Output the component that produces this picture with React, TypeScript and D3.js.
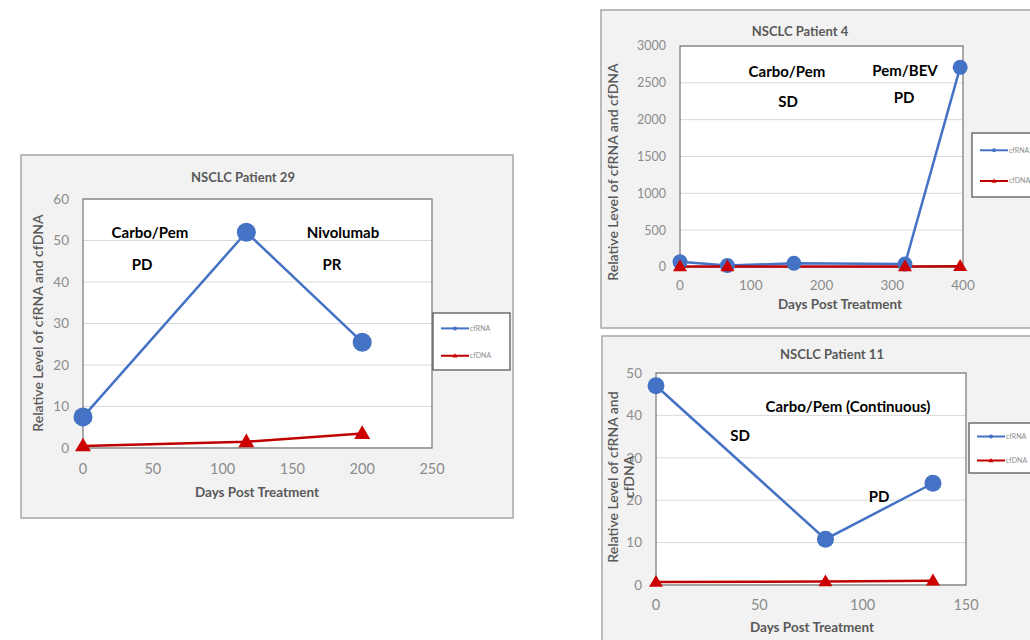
import React from "react";
import * as d3 from "d3";

// ---------- data ----------
const p29Days = [0, 117, 200];
const p29Rna = [7.5, 52, 25.5];
const p29DnaDays = [0, 117, 200];
const p29Dna = [0.5, 1.5, 3.5];
const p29XTicks = [0, 50, 100, 150, 200, 250];
const p29YTicks = [0, 10, 20, 30, 40, 50, 60];

const p4Days = [0, 67, 161, 318, 396];
const p4Rna = [70, 20, 50, 40, 2710];
const p4DnaDays = [0, 67, 318, 396];
const p4Dna = [8, 6, 6, 10];
const p4XTicks = [0, 100, 200, 300, 400];
const p4YTicks = [0, 500, 1000, 1500, 2000, 2500, 3000];

const p11Days = [0, 82, 134];
const p11Rna = [47, 10.8, 24];
const p11DnaDays = [0, 82, 134];
const p11Dna = [0.7, 0.8, 1.0];
const p11XTicks = [0, 50, 100, 150];
const p11YTicks = [0, 10, 20, 30, 40, 50];

const seriesNames = ["cfRNA", "cfDNA"];

type Note = { text: string; x: number; y: number };

interface PanelCfg {
  title: string;
  box: [number, number, number, number];
  plot: [number, number, number, number]; // left, top, right, bottom
  titlePos: [number, number];
  xDomain: [number, number];
  yDomain: [number, number];
  xTicks: number[];
  yTicks: number[];
  rnaX: number[];
  rnaY: number[];
  dnaX: number[];
  dnaY: number[];
  notes: Note[];
  yTitleLines: string[];
  yTitleX: number;
  yTitleY: number;
  xTitlePos: [number, number];
  xTickOffset: number;
  legend: [number, number, number, number];
  dotR: number;
  tri: number;
  tickSize: number;
}

const panels: PanelCfg[] = [
  {
    title: "NSCLC Patient 29",
    box: [21, 155, 492, 363],
    plot: [83, 199, 432, 448],
    titlePos: [243, 182],
    xDomain: [0, 250],
    yDomain: [0, 60],
    xTicks: p29XTicks,
    yTicks: p29YTicks,
    rnaX: p29Days,
    rnaY: p29Rna,
    dnaX: p29DnaDays,
    dnaY: p29Dna,
    notes: [
      { text: "Carbo/Pem", x: 150, y: 238 },
      { text: "PD", x: 142, y: 270 },
      { text: "Nivolumab", x: 343, y: 238 },
      { text: "PR", x: 332, y: 270 },
    ],
    yTitleLines: ["Relative Level of cfRNA and cfDNA"],
    yTitleX: 38,
    yTitleY: 323,
    xTitlePos: [257, 497],
    xTickOffset: 21,
    legend: [433, 313, 77, 57],
    dotR: 9.5,
    tri: 16,
    tickSize: 13.5,
  },
  {
    title: "NSCLC Patient 4",
    box: [601, 10, 440, 318],
    plot: [680, 46, 963, 267],
    titlePos: [800, 36],
    xDomain: [0, 400],
    yDomain: [0, 3000],
    xTicks: p4XTicks,
    yTicks: p4YTicks,
    rnaX: p4Days,
    rnaY: p4Rna,
    dnaX: p4DnaDays,
    dnaY: p4Dna,
    notes: [
      { text: "Carbo/Pem", x: 787, y: 77 },
      { text: "SD", x: 788, y: 107 },
      { text: "Pem/BEV", x: 905, y: 76 },
      { text: "PD", x: 904, y: 103 },
    ],
    yTitleLines: ["Relative Level of cfRNA and cfDNA"],
    yTitleX: 613,
    yTitleY: 172,
    xTitlePos: [840, 309],
    xTickOffset: 18,
    legend: [972, 133, 70, 64],
    dotR: 7.5,
    tri: 14,
    tickSize: 12.5,
  },
  {
    title: "NSCLC Patient 11",
    box: [602, 336, 440, 320],
    plot: [656, 373, 966, 585],
    titlePos: [832, 359],
    xDomain: [0, 150],
    yDomain: [0, 50],
    xTicks: p11XTicks,
    yTicks: p11YTicks,
    rnaX: p11Days,
    rnaY: p11Rna,
    dnaX: p11DnaDays,
    dnaY: p11Dna,
    notes: [
      { text: "Carbo/Pem (Continuous)", x: 848, y: 412 },
      { text: "SD", x: 740, y: 441 },
      { text: "PD", x: 879, y: 502 },
    ],
    yTitleLines: ["Relative Level of cfRNA and", "cfDNA"],
    yTitleX: 613,
    yTitleY: 477,
    xTitlePos: [812, 632],
    xTickOffset: 20,
    legend: [969, 423, 70, 50],
    dotR: 8.5,
    tri: 14,
    tickSize: 13.5,
  },
];

const BLUE = "#4472C4";
const RED = "#C00000";
const GRAY = "#595959";
const FONT = "Lato, 'Open Sans', sans-serif";

function triPath(cx: number, cy: number, s: number) {
  const h = s * 0.85;
  return `M${cx},${cy - h * 0.6} L${cx + s / 2},${cy + h * 0.4} L${cx - s / 2},${cy + h * 0.4} Z`;
}

function Panel({ c }: { c: PanelCfg }) {
  const [pl, pt, pr, pb] = c.plot;
  const x = d3.scaleLinear().domain(c.xDomain).range([pl, pr]);
  const y = d3.scaleLinear().domain(c.yDomain).range([pb, pt]);
  const rnaPts = c.rnaX.map((d, i) => [x(d), y(c.rnaY[i])] as [number, number]);
  const dnaPts = c.dnaX.map((d, i) => [x(d), y(c.dnaY[i])] as [number, number]);
  const line = d3.line();
  const [lx, ly, lw, lh] = c.legend;
  const e1 = ly + lh * 0.27;
  const e2 = ly + lh * 0.75;
  return (
    <g fontFamily={FONT}>
      <rect x={c.box[0]} y={c.box[1]} width={c.box[2]} height={c.box[3]} fill="#f2f2f2" stroke="#a6a6a6" strokeWidth={1.5} />
      <text x={c.titlePos[0]} y={c.titlePos[1]} textAnchor="middle" fontSize={13} fontWeight={700} fill={GRAY}>
        {c.title}
      </text>
      <rect x={pl} y={pt} width={pr - pl} height={pb - pt} fill="#ffffff" />
      {c.yTicks.map((t) => (
        <line key={"g" + t} x1={pl} x2={pr} y1={y(t)} y2={y(t)} stroke="#d9d9d9" strokeWidth={1} />
      ))}
      <rect x={pl} y={pt} width={pr - pl} height={pb - pt} fill="none" stroke="#7f7f7f" strokeWidth={1.3} />
      {c.yTicks.map((t) => (
        <text key={"yt" + t} x={pl - 14} y={y(t)} dy="0.35em" textAnchor="end" fontSize={c.tickSize} fill="#8c8c8c">
          {t}
        </text>
      ))}
      {c.xTicks.map((t) => (
        <text key={"xt" + t} x={x(t)} y={pb + c.xTickOffset} dy="0.35em" textAnchor="middle" fontSize={c.tickSize + 1} fill="#8c8c8c">
          {t}
        </text>
      ))}
      <text x={c.xTitlePos[0]} y={c.xTitlePos[1]} textAnchor="middle" fontSize={13.5} fontWeight={700} fill={GRAY}>
        Days Post Treatment
      </text>
      {c.yTitleLines.map((s, i) => (
        <text
          key={"yl" + i}
          transform={`translate(${c.yTitleX + i * 16},${c.yTitleY}) rotate(-90)`}
          textAnchor="middle"
          dy="0.35em"
          fontSize={14}
          fontWeight={600}
          fill={GRAY}
        >
          {s}
        </text>
      ))}
      <path d={line(rnaPts) || ""} fill="none" stroke={BLUE} strokeWidth={2.5} />
      <path d={line(dnaPts) || ""} fill="none" stroke={RED} strokeWidth={2.5} />
      {rnaPts.map((p, i) => (
        <circle key={"c" + i} cx={p[0]} cy={p[1]} r={c.dotR} fill={BLUE} />
      ))}
      {dnaPts.map((p, i) => (
        <path key={"t" + i} d={triPath(p[0], p[1], c.tri)} fill="#cc0000" />
      ))}
      {c.notes.map((n, i) => (
        <text key={"n" + i} x={n.x} y={n.y} textAnchor="middle" fontSize={15} fontWeight={700} fill="#000">
          {n.text}
        </text>
      ))}
      <rect x={lx} y={ly} width={lw} height={lh} fill="#ffffff" stroke="#595959" strokeWidth={1.3} />
      <line x1={lx + 8} x2={lx + 36} y1={e1} y2={e1} stroke={BLUE} strokeWidth={2} />
      <circle cx={lx + 22} cy={e1} r={2} fill={BLUE} />
      <text x={lx + 37} y={e1} dy="0.35em" fontSize={7} fill="#8c8c8c">
        {seriesNames[0]}
      </text>
      <line x1={lx + 8} x2={lx + 36} y1={e2} y2={e2} stroke={RED} strokeWidth={2} />
      <path d={triPath(lx + 22, e2, 5)} fill="#cc0000" />
      <text x={lx + 37} y={e2} dy="0.35em" fontSize={7} fill="#8c8c8c">
        {seriesNames[1]}
      </text>
    </g>
  );
}

export default function App() {
  return (
    <svg width={1030} height={640} style={{ position: "absolute", left: 0, top: 0, background: "#fff" }}>
      <rect x={0} y={0} width={1030} height={640} fill="#ffffff" />
      {panels.map((c, i) => (
        <Panel key={i} c={c} />
      ))}
    </svg>
  );
}
